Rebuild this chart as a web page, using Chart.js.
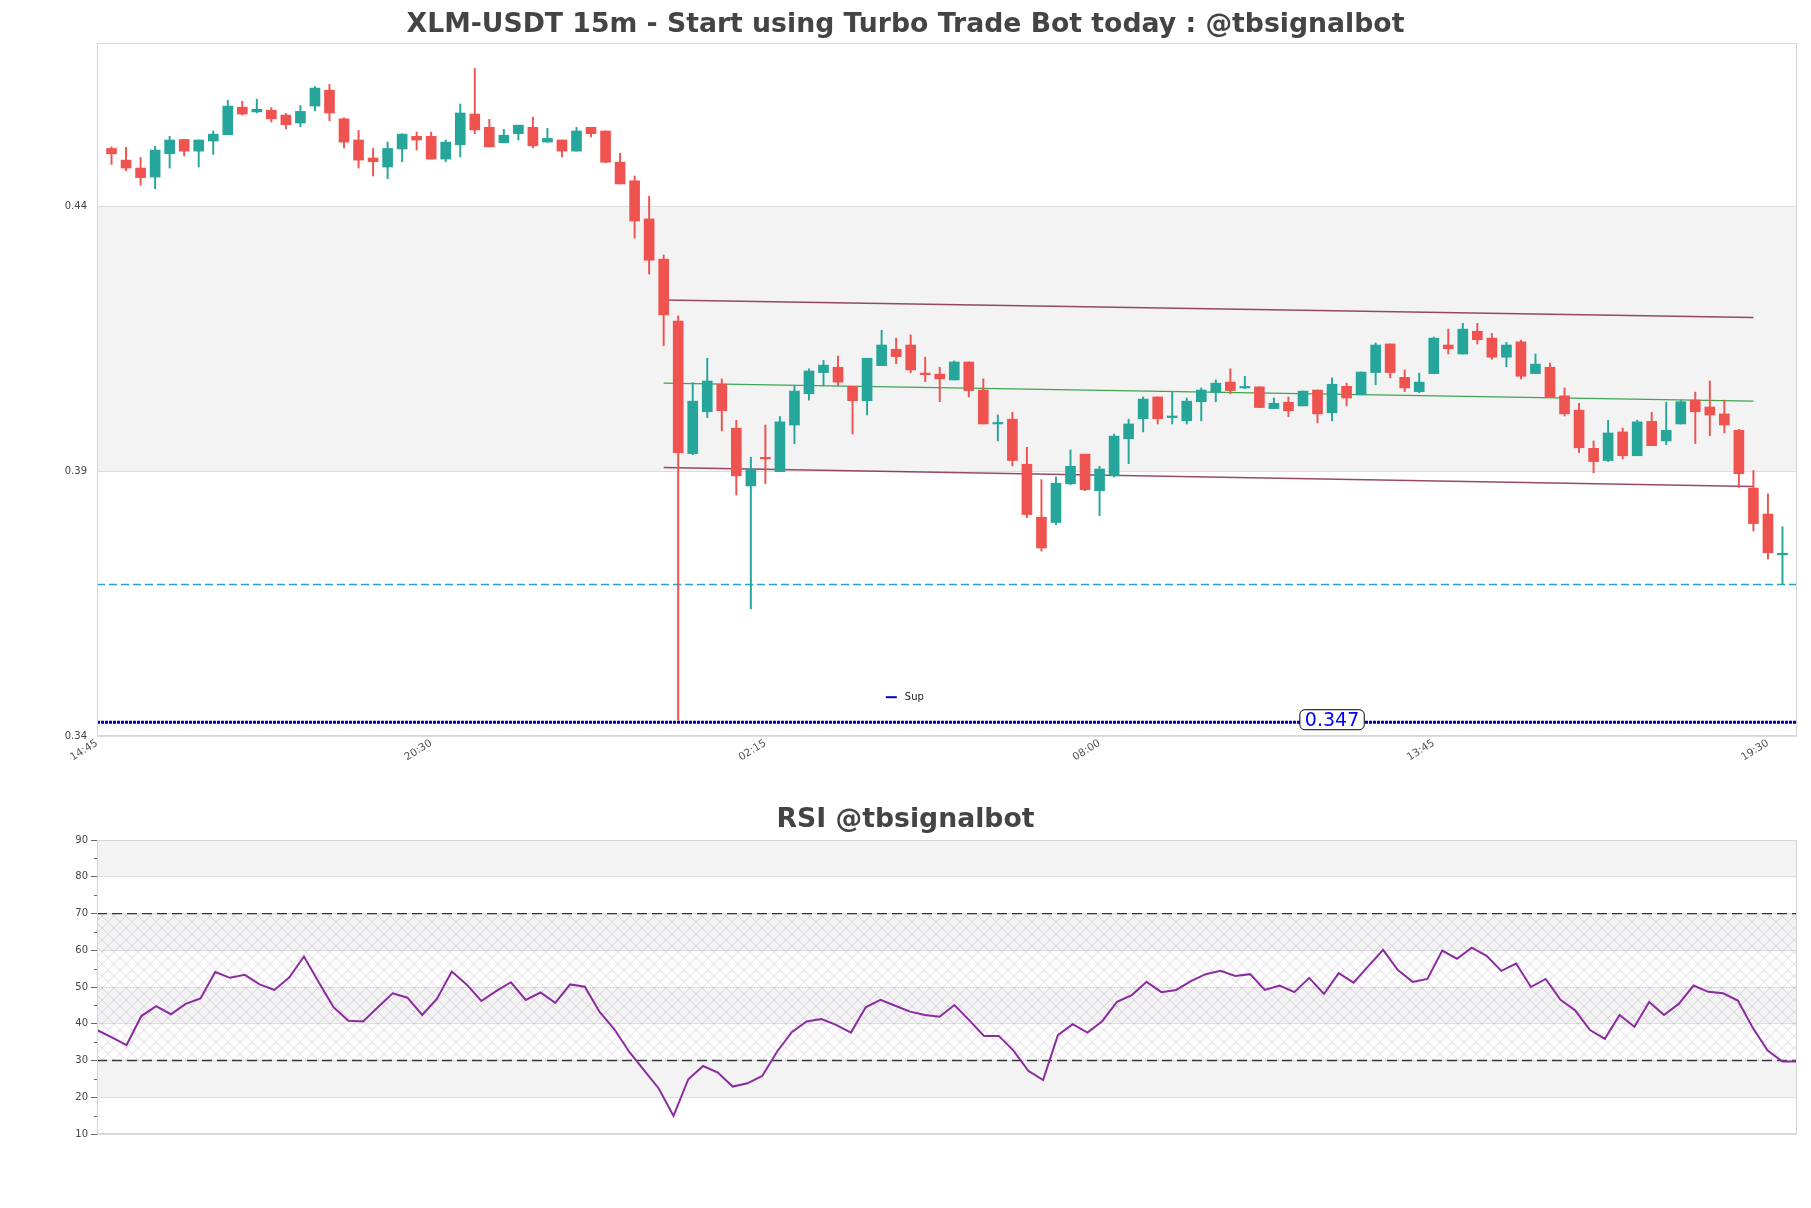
<!DOCTYPE html>
<html>
<head>
<meta charset="utf-8">
<title>XLM-USDT 15m</title>
<script src="https://cdn.jsdelivr.net/npm/chart.js@4.4.1/dist/chart.umd.min.js"></script>
<style>
  html, body { margin: 0; padding: 0; background: #fff; }
  #wrap { position: relative; width: 1811px; height: 1208px; }
  #priceBox { position: absolute; left: 0; top: 0; }
  #rsiBox { position: absolute; left: 0; top: 790px; }
</style>
</head>
<body>
<div id="wrap">
  <div id="priceBox"><canvas id="price" width="1811" height="786"></canvas></div>
  <div id="rsiBox"><canvas id="rsi" width="1811" height="418"></canvas></div>
</div>
<script>
// 15m candles, the first one is 15:00 (x index 1, 14:45 is index 0)
const opens = [
  0.4509, 0.4487, 0.4472, 0.4455, 0.4499, 0.4526, 0.4504, 0.4523, 0.4535, 0.4587,
  0.4578, 0.4581, 0.4572, 0.4557, 0.4589, 0.4619, 0.4565, 0.4525, 0.4491, 0.4474,
  0.4508, 0.4532, 0.4532, 0.4489, 0.4516, 0.4574, 0.4549, 0.4520, 0.4537, 0.4549,
  0.4521, 0.4525, 0.4504, 0.4549, 0.4542, 0.4483, 0.4448, 0.4376, 0.4300, 0.4183,
  0.3933, 0.4012, 0.4064, 0.3981, 0.3872, 0.3926, 0.3899, 0.3987, 0.4046, 0.4086,
  0.4096, 0.4060, 0.4033, 0.4099, 0.4130, 0.4138, 0.4085, 0.4083, 0.4072, 0.4106,
  0.4053, 0.3989, 0.3998, 0.3913, 0.3813, 0.3803, 0.3876, 0.3932, 0.3863, 0.3891,
  0.3961, 0.3999, 0.4040, 0.4001, 0.3995, 0.4031, 0.4049, 0.4068, 0.4057, 0.4059,
  0.4018, 0.4030, 0.4023, 0.4053, 0.4010, 0.4060, 0.4044, 0.4086, 0.4140, 0.4077,
  0.4050, 0.4084, 0.4138, 0.4121, 0.4164, 0.4151, 0.4115, 0.4144, 0.4084, 0.4096,
  0.4042, 0.4015, 0.3943, 0.3920, 0.3974, 0.3929, 0.3994, 0.3957, 0.3989, 0.4034,
  0.4021, 0.4008, 0.3977, 0.3868, 0.3819, 0.3742
];
const highs = [
  0.4512, 0.4511, 0.4492, 0.4513, 0.4532, 0.4526, 0.4525, 0.4542, 0.4600, 0.4598,
  0.4602, 0.4586, 0.4575, 0.4590, 0.4626, 0.4630, 0.4567, 0.4543, 0.4509, 0.4521,
  0.4537, 0.4540, 0.4540, 0.4525, 0.4593, 0.4660, 0.4564, 0.4545, 0.4553, 0.4568,
  0.4547, 0.4525, 0.4549, 0.4549, 0.4542, 0.4500, 0.4457, 0.4419, 0.4308, 0.4193,
  0.4067, 0.4113, 0.4074, 0.3996, 0.3926, 0.3987, 0.4003, 0.4060, 0.4093, 0.4109,
  0.4117, 0.4060, 0.4113, 0.4166, 0.4151, 0.4157, 0.4115, 0.4096, 0.4108, 0.4106,
  0.4074, 0.4006, 0.4011, 0.3945, 0.3884, 0.3889, 0.3940, 0.3932, 0.3909, 0.3970,
  0.3998, 0.4040, 0.4040, 0.4049, 0.4038, 0.4057, 0.4072, 0.4093, 0.4079, 0.4059,
  0.4038, 0.4040, 0.4051, 0.4053, 0.4076, 0.4066, 0.4087, 0.4142, 0.4140, 0.4091,
  0.4085, 0.4153, 0.4168, 0.4179, 0.4179, 0.4160, 0.4143, 0.4147, 0.4121, 0.4104,
  0.4057, 0.4028, 0.3957, 0.3996, 0.3981, 0.3996, 0.4011, 0.4030, 0.4033, 0.4049,
  0.4070, 0.4034, 0.3979, 0.3901, 0.3857, 0.3795
];
const lows = [
  0.4479, 0.4467, 0.4440, 0.4433, 0.4472, 0.4495, 0.4474, 0.4498, 0.4535, 0.4572,
  0.4576, 0.4559, 0.4546, 0.4550, 0.4580, 0.4561, 0.4510, 0.4472, 0.4457, 0.4452,
  0.4484, 0.4506, 0.4489, 0.4484, 0.4493, 0.4537, 0.4512, 0.4520, 0.4525, 0.4510,
  0.4521, 0.4493, 0.4504, 0.4531, 0.4482, 0.4442, 0.4340, 0.4272, 0.4137, 0.3430,
  0.3931, 0.4001, 0.3976, 0.3855, 0.3640, 0.3876, 0.3899, 0.3952, 0.4034, 0.4061,
  0.4061, 0.3970, 0.4006, 0.4099, 0.4103, 0.4086, 0.4069, 0.4031, 0.4072, 0.4040,
  0.3989, 0.3957, 0.3910, 0.3812, 0.3749, 0.3799, 0.3874, 0.3863, 0.3816, 0.3889,
  0.3914, 0.3974, 0.3989, 0.3989, 0.3989, 0.3995, 0.4031, 0.4046, 0.4056, 0.4020,
  0.4018, 0.4003, 0.4023, 0.3991, 0.3995, 0.4023, 0.4044, 0.4063, 0.4076, 0.4050,
  0.4048, 0.4084, 0.4121, 0.4121, 0.4140, 0.4111, 0.4097, 0.4074, 0.4084, 0.4040,
  0.4004, 0.3935, 0.3897, 0.3918, 0.3923, 0.3929, 0.3948, 0.3950, 0.3989, 0.3952,
  0.3967, 0.3972, 0.3869, 0.3787, 0.3734, 0.3686
];
const closes = [
  0.4499, 0.4472, 0.4454, 0.4506, 0.4525, 0.4504, 0.4525, 0.4536, 0.4589, 0.4574,
  0.4583, 0.4565, 0.4554, 0.4579, 0.4623, 0.4576, 0.4521, 0.4487, 0.4484, 0.4509,
  0.4536, 0.4525, 0.4489, 0.4521, 0.4576, 0.4544, 0.4512, 0.4534, 0.4553, 0.4514,
  0.4528, 0.4504, 0.4542, 0.4537, 0.4483, 0.4442, 0.4372, 0.4298, 0.4195, 0.3935,
  0.4032, 0.4070, 0.4014, 0.3891, 0.3904, 0.3923, 0.3993, 0.4051, 0.4089, 0.4100,
  0.4068, 0.4033, 0.4113, 0.4138, 0.4116, 0.4091, 0.4082, 0.4074, 0.4106, 0.4052,
  0.3989, 0.3991, 0.3920, 0.3818, 0.3755, 0.3877, 0.3909, 0.3865, 0.3904, 0.3966,
  0.3989, 0.4036, 0.3999, 0.4004, 0.4032, 0.4053, 0.4066, 0.4052, 0.4059, 0.4020,
  0.4028, 0.4014, 0.4051, 0.4008, 0.4064, 0.4038, 0.4087, 0.4138, 0.4086, 0.4057,
  0.4068, 0.4151, 0.4131, 0.4168, 0.4148, 0.4115, 0.4138, 0.4079, 0.4102, 0.4040,
  0.4008, 0.3944, 0.3918, 0.3972, 0.3929, 0.3993, 0.3948, 0.3977, 0.4031, 0.4012,
  0.4006, 0.3987, 0.3895, 0.3801, 0.3746, 0.3745
];

// RSI, one value per candle
const rsiValues = [
  38.3, 36.3, 34.2, 42.1, 44.8, 42.6, 45.4, 46.9, 54.1, 52.5,
  53.3, 50.7, 49.2, 52.6, 58.3, 51.3, 44.5, 40.8, 40.6, 44.5,
  48.3, 47.1, 42.4, 46.8, 54.2, 50.7, 46.2, 48.9, 51.3, 46.5,
  48.5, 45.7, 50.7, 50.1, 43.2, 38.5, 32.4, 27.4, 22.4, 14.9,
  24.9, 28.5, 26.7, 22.9, 23.8, 25.8, 32.4, 37.7, 40.6, 41.3,
  39.7, 37.6, 44.5, 46.5, 44.9, 43.3, 42.4, 41.9, 45.1, 41.0,
  36.7, 36.7, 32.7, 27.2, 24.7, 36.9, 39.9, 37.6, 40.7, 46.0,
  47.8, 51.4, 48.6, 49.2, 51.6, 53.5, 54.4, 53.0, 53.5, 49.2,
  50.4, 48.6, 52.5, 48.1, 53.8, 51.2, 55.7, 60.1, 54.6, 51.4,
  52.2, 59.9, 57.7, 60.7, 58.5, 54.4, 56.4, 50.0, 52.2, 46.5,
  43.6, 38.3, 35.9, 42.4, 39.2, 45.9, 42.4, 45.4, 50.4, 48.7,
  48.3, 46.3, 39.0, 32.8, 29.7, 29.7
];

const xTickIndex = [0, 23, 46, 69, 92, 115];
const xTickLabels = ['14:45', '20:30', '02:15', '08:00', '13:45', '19:30'];
const priceTicks = [0.34, 0.39, 0.44];
const rsiTicks = [10, 20, 30, 40, 50, 60, 70, 80, 90];

// channel lines (start / end)
const channelX = [39, 114];
const channelTop = [0.4223, 0.4190];
const channelMid = [0.4066, 0.4032];
const channelLow = [0.3907, 0.3871];

const supLevel = 0.3426;
const supLabel = '0.347';
const supLabelAt = 85;
const lastLevel = 0.3686;
const rsiLevels = [70, 30];

const UP = '#26a69a';
const DOWN = '#ef5350';
const BAND = '#f3f3f3';
const GRID = '#dddddd';

Chart.defaults.font.family = '"DejaVu Sans", sans-serif';

// alternate shaded bands between y ticks, lowest band white
const bandsPlugin = {
  id: 'bands',
  beforeDraw(chart) {
    const { ctx, chartArea: a, scales: { y } } = chart;
    const vals = y.ticks.map(t => t.value).filter(v => v > y.min && v < y.max);
    const edges = [y.min, ...vals, y.max];
    ctx.save();
    ctx.fillStyle = BAND;
    for (let i = 0; i < edges.length - 1; i++) {
      if (i % 2 === 1) {
        const top = y.getPixelForValue(edges[i + 1]);
        const bot = y.getPixelForValue(edges[i]);
        ctx.fillRect(a.left, top, a.right - a.left, bot - top);
      }
    }
    ctx.restore();
  },
  afterDraw(chart) {
    const { ctx, chartArea: a } = chart;
    ctx.save();
    ctx.strokeStyle = '#d6d6d6';
    ctx.lineWidth = 1;
    ctx.strokeRect(a.left + 0.5, a.top + 0.5, a.right - a.left - 1, a.bottom - a.top - 1);
    ctx.restore();
  }
};

const supTagPlugin = {
  id: 'supTag',
  afterDatasetsDraw(chart) {
    const { ctx, chartArea: a, scales: { x, y } } = chart;
    const cx = x.getPixelForValue(supLabelAt);
    const cy = y.getPixelForValue(supLevel) - 2.5;
    ctx.save();
    ctx.font = '19px "DejaVu Sans"';
    const w = ctx.measureText(supLabel).width + 10;
    const h = 20;
    ctx.beginPath();
    ctx.roundRect(cx - w / 2, cy - h / 2, w, h, 5);
    ctx.fillStyle = '#fff';
    ctx.fill();
    ctx.strokeStyle = '#000';
    ctx.lineWidth = 1;
    ctx.stroke();
    ctx.fillStyle = '#0000ff';
    ctx.textAlign = 'center';
    ctx.textBaseline = 'middle';
    ctx.fillText(supLabel, cx, cy + 1);

    // legend entry for the support line
    const lx = a.left + 0.464 * (a.right - a.left);
    const ly = a.top + 0.944 * (a.bottom - a.top);
    ctx.strokeStyle = '#0000cc';
    ctx.lineWidth = 2;
    ctx.beginPath();
    ctx.moveTo(lx, ly);
    ctx.lineTo(lx + 11, ly);
    ctx.stroke();
    ctx.fillStyle = '#222';
    ctx.font = '10px "DejaVu Sans"';
    ctx.textAlign = 'left';
    ctx.fillText('Sup', lx + 19, ly);
    ctx.restore();
  }
};

// empty right axis, only keeps a margin so the titles stay centred on the page
const rightGap = {
  position: 'right',
  display: true,
  grid: { display: false, drawTicks: false },
  border: { display: false },
  ticks: { display: false },
  afterFit: s => { s.width = 14; }
};

const candleX = opens.map((_, i) => i + 1);
const candleColor = opens.map((o, i) => (closes[i] >= o ? UP : DOWN));
const flat = (v, x0, x1) => [{ x: x0, y: v }, { x: x1, y: v }];
const seg = (ys) => channelX.map((x, i) => ({ x, y: ys[i] }));

new Chart(document.getElementById('price'), {
  type: 'bar',
  data: {
    datasets: [
      {
        label: 'body',
        data: candleX.map((x, i) => ({ x, y: [opens[i], closes[i]] })),
        backgroundColor: candleColor,
        barThickness: 10,
        minBarLength: 1.5,
        grouped: false,
        order: 0
      },
      {
        label: 'wick',
        data: candleX.map((x, i) => ({ x, y: [lows[i], highs[i]] })),
        backgroundColor: candleColor,
        barThickness: 1.3,
        grouped: false,
        order: 1
      },
      { type: 'line', label: 'top', data: seg(channelTop), borderColor: 'rgba(125, 30, 60, 0.8)', borderWidth: 1.5, pointRadius: 0, order: 2 },
      { type: 'line', label: 'mid', data: seg(channelMid), borderColor: 'rgba(30, 150, 50, 0.85)', borderWidth: 1.3, pointRadius: 0, order: 3 },
      { type: 'line', label: 'low', data: seg(channelLow), borderColor: 'rgba(125, 30, 60, 0.8)', borderWidth: 1.5, pointRadius: 0, order: 4 },
      { type: 'line', label: 'last', data: flat(lastLevel, 0, 117), borderColor: '#2a9fd6', borderWidth: 1.4, borderDash: [8, 4], pointRadius: 0, order: 5 },
      { type: 'line', label: 'Sup', data: flat(supLevel, 0, 117), borderColor: '#0000b0', borderWidth: 3, borderDash: [3, 1], pointRadius: 0, order: 6 }
    ]
  },
  options: {
    responsive: false,
    animation: false,
    layout: { padding: 0 },
    plugins: {
      legend: { display: false },
      tooltip: { enabled: false },
      title: {
        display: true,
        text: 'XLM-USDT 15m - Start using Turbo Trade Bot today : @tbsignalbot',
        color: '#444',
        font: { size: 26.7, weight: 'bold' },
        padding: { top: 9, bottom: 2 }
      }
    },
    scales: {
      x: {
        type: 'linear',
        min: 0,
        max: 117,
        offset: false,
        afterBuildTicks: s => { s.ticks = xTickIndex.map(v => ({ value: v })); },
        afterFit: s => { s.height = 50; },
        grid: { display: false, drawTicks: false, offset: false },
        border: { display: false },
        ticks: {
          autoSkip: false,
          minRotation: 32,
          maxRotation: 32,
          padding: 1,
          color: '#555',
          font: { size: 10.5 },
          callback: v => xTickLabels[xTickIndex.indexOf(v)]
        }
      },
      y: {
        min: 0.34,
        max: 0.4708,
        afterBuildTicks: s => { s.ticks = priceTicks.map(v => ({ value: v })); },
        afterFit: s => { s.width = 97; },
        grid: { color: GRID, drawTicks: false },
        border: { display: false },
        ticks: { padding: 10, color: '#444', font: { size: 10 }, callback: v => v.toFixed(2) }
      },
      yGap: rightGap
    }
  },
  plugins: [bandsPlugin, supTagPlugin]
});

// cross hatch used between the 30 and 70 levels
function makeHatch(ctx) {
  const c = document.createElement('canvas');
  c.width = 12;
  c.height = 12;
  const g = c.getContext('2d');
  g.strokeStyle = 'rgba(145, 115, 165, 0.3)';
  g.lineWidth = 0.8;
  g.beginPath();
  g.moveTo(0, 0); g.lineTo(12, 12);
  g.moveTo(12, 0); g.lineTo(0, 12);
  g.stroke();
  return ctx.createPattern(c, 'repeat');
}

const minorTicksPlugin = {
  id: 'minorTicks',
  afterDraw(chart) {
    const { ctx, chartArea: a, scales: { y } } = chart;
    ctx.save();
    ctx.strokeStyle = '#666';
    ctx.lineWidth = 1;
    for (let i = 0; i < rsiTicks.length - 1; i++) {
      const py = Math.round(y.getPixelForValue((rsiTicks[i] + rsiTicks[i + 1]) / 2)) + 0.5;
      ctx.beginPath();
      ctx.moveTo(a.left - 3, py);
      ctx.lineTo(a.left, py);
      ctx.stroke();
    }
    ctx.restore();
  }
};

const rsiCanvas = document.getElementById('rsi');
const hatch = makeHatch(rsiCanvas.getContext('2d'));
const rsiLast = rsiValues.length - 1;

new Chart(rsiCanvas, {
  type: 'line',
  data: {
    datasets: [
      { label: 'RSI', data: rsiValues.map((v, i) => ({ x: i, y: v })), borderColor: '#8b2c9e', borderWidth: 2, pointRadius: 0, tension: 0, order: 0 },
      { label: 'ob', data: flat(rsiLevels[0], 0, rsiLast), borderColor: '#333', borderWidth: 1.3, borderDash: [10, 5], pointRadius: 0, fill: '+1', backgroundColor: hatch, order: 1 },
      { label: 'os', data: flat(rsiLevels[1], 0, rsiLast), borderColor: '#333', borderWidth: 1.3, borderDash: [10, 5], pointRadius: 0, fill: false, order: 2 }
    ]
  },
  options: {
    responsive: false,
    animation: false,
    layout: { padding: { left: 0, right: 0, top: 0, bottom: 74 } },
    plugins: {
      legend: { display: false },
      tooltip: { enabled: false },
      title: {
        display: true,
        text: 'RSI @tbsignalbot',
        color: '#444',
        font: { size: 26.7, weight: 'bold' },
        padding: { top: 14, bottom: 4 }
      }
    },
    scales: {
      x: { type: 'linear', min: 0, max: rsiLast, display: false },
      y: {
        min: 10,
        max: 90,
        afterBuildTicks: s => { s.ticks = rsiTicks.map(v => ({ value: v })); },
        afterFit: s => { s.width = 97; },
        grid: { color: GRID, tickLength: 6, tickColor: '#666' },
        border: { display: false },
        ticks: { padding: 3, color: '#444', font: { size: 10 } }
      },
      yGap: rightGap
    }
  },
  plugins: [bandsPlugin, minorTicksPlugin]
});
</script>
</body>
</html>
